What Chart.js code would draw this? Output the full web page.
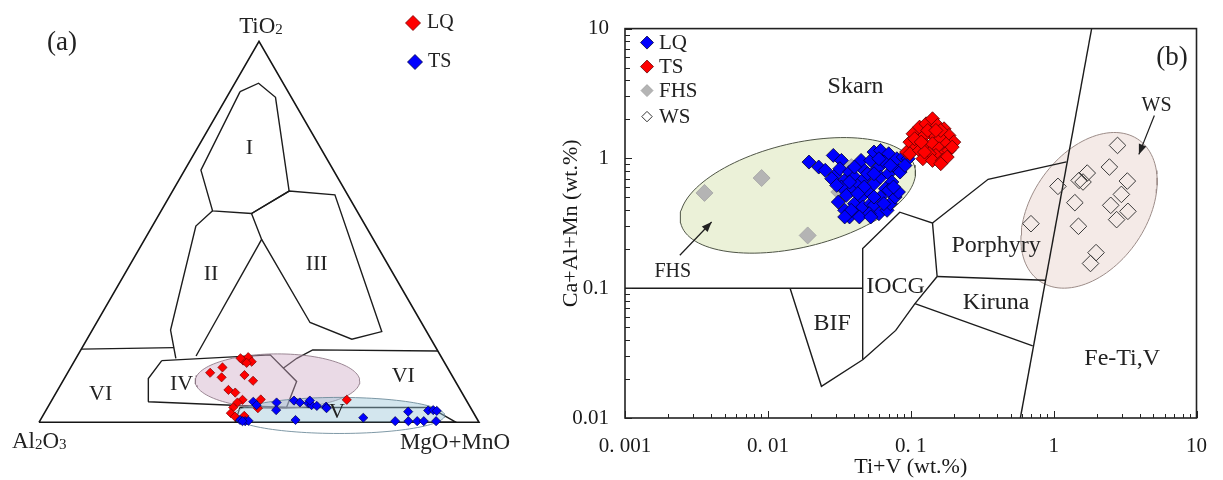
<!DOCTYPE html>
<html lang="en">
<head>
<meta charset="utf-8">
<title>Magnetite discrimination diagrams</title>
<script src="https://cdn.jsdelivr.net/npm/chart.js@4.4.1/dist/chart.umd.min.js"></script>
<style>
  html, body { margin: 0; padding: 0; background: #ffffff; }
  #figure { position: relative; width: 1223px; height: 480px; overflow: hidden; background: #fff; }
  #ternary { position: absolute; left: 0; top: 0; }
  #logplot { position: absolute; left: 560px; top: 0; }
</style>
</head>
<body>
<div id="figure">
  <canvas id="ternary" width="560" height="480"></canvas>
  <canvas id="logplot" width="663" height="480"></canvas>
</div>
<script>
// ===================== Panel (a): TiO2 – Al2O3 – (MgO+MnO) =====================
// Compositions are [TiO2, Al2O3, MgO+MnO] in per cent.
const ternaryCorners = [[0, 100, 0], [0, 0, 100], [100, 0, 0], [0, 100, 0]];

const lqTernary = [
  [13.0, 54.6, 32.4], [14.4, 51.1, 34.5], [11.8, 52.6, 35.6], [12.4, 47.1, 40.5],
  [10.9, 45.9, 43.2], [16.2, 45.5, 38.3], [17.1, 43.9, 39.0], [15.9, 43.7, 40.4],
  [15.6, 45.0, 39.4], [8.5, 52.7, 38.8], [7.8, 51.5, 40.7], [5.9, 50.8, 43.3],
  [5.2, 52.3, 42.5], [6.0, 46.6, 47.4], [3.9, 53.9, 42.2], [2.4, 55.2, 42.4],
  [1.5, 54.7, 43.8], [1.7, 52.5, 45.8], [3.7, 48.4, 47.9], [5.9, 27.1, 67.0],
  [16.8, 45.8, 37.4]
];

const tsTernary = [
  [0.6, 54.0, 45.4], [0.3, 53.0, 46.7], [0.4, 52.2, 47.4], [0.3, 53.6, 46.1],
  [5.4, 48.6, 46.0], [4.5, 48.3, 47.2], [5.2, 43.4, 51.4], [3.2, 44.5, 52.3],
  [5.7, 39.2, 55.1], [5.2, 38.1, 56.7], [5.0, 36.3, 58.7], [4.5, 35.8, 59.7],
  [4.3, 34.7, 61.0], [4.1, 32.7, 63.2], [3.7, 32.8, 63.5], [0.6, 41.4, 58.0],
  [1.2, 25.7, 73.1], [0.3, 18.9, 80.8], [2.8, 14.7, 82.5], [0.3, 15.9, 83.8],
  [0.3, 13.9, 85.8], [0.3, 12.4, 87.3], [3.1, 10.0, 86.9], [3.2, 8.8, 88.0],
  [3.0, 8.1, 88.9], [0.3, 9.6, 90.1], [5.7, 35.6, 58.7]
];

// Field boundaries I–VI
const fieldI = [[86.8, 10.9, 2.3], [89.0, 5.6, 5.4], [85.3, 3.6, 11.1], [60.7, 12.8, 26.5],
  [54.8, 24.3, 20.9], [55.5, 32.8, 11.7], [66.2, 30.1, 3.7], [86.8, 10.9, 2.3]];
const fieldIILeft = [[55.5, 32.8, 11.7], [51.5, 38.6, 9.9], [24.2, 58.0, 17.8], [16.8, 60.5, 22.7]];
const fieldIIRight = [[48.0, 25.4, 26.6], [17.4, 55.6, 27.0]];
const fieldIII = [[54.8, 24.3, 20.9], [60.7, 12.8, 26.5], [59.7, 2.9, 37.4], [23.8, 10.2, 66.0],
  [21.8, 18.0, 60.2], [26.2, 25.3, 48.5], [48.0, 25.4, 26.6], [54.8, 24.3, 20.9]];
const fieldIV = [[16.2, 64.0, 19.8], [17.7, 38.6, 43.7], [10.7, 36.1, 53.2], [3.9, 41.8, 54.3],
  [5.4, 72.5, 22.1], [11.5, 69.4, 19.1], [16.2, 64.0, 19.8]];
const fieldV = [[3.9, 52.4, 43.7], [3.9, 9.2, 86.9], [0, 5.2, 94.8], [0, 55.4, 44.6], [3.9, 52.4, 43.7]];
const fieldVILeft = [[19.2, 80.8, 0], [19.6, 59.5, 20.9]];
const fieldVIRight = [[14.2, 37.4, 48.4], [16.8, 33.0, 50.2], [19.0, 28.3, 52.7], [18.7, 0, 81.3]];

// Sample envelopes: centre composition, half-axes along the base and the height
const lqEnvelopeA = { center: [10.8, 40.4, 48.8], rx: 18.7, ry: 6.2 };
const tsEnvelopeA = { center: [1.8, 30.9, 67.3], rx: 24.0, ry: 4.1 };

// Field names, placed in the triangle's plane (base = 0..100, height = 0..86.6)
const fieldNamesA = [
  { text: 'I', x: 47.8, y: 62.3 }, { text: 'II', x: 39.1, y: 33.7 },
  { text: 'III', x: 63.1, y: 36.0 }, { text: 'IV', x: 32.4, y: 8.7 },
  { text: 'V', x: 67.7, y: 2.4 }, { text: 'VI', x: 14.0, y: 6.4 },
  { text: 'VI', x: 82.8, y: 10.4 }
];

// ===================== Panel (b): Ti+V vs Ca+Al+Mn =====================
const xDecades = [0.001, 0.01, 0.1, 1, 10];
const xTickLabels = ['0. 001', '0. 01', '0. 1', '1', '10'];
const yDecades = [0.01, 0.1, 1, 10];
const yTickLabels = ['0.01', '0.1', '1', '10'];

// [Ti+V, Ca+Al+Mn] in wt.%
const lqPointsB = [
  [0.0194, 0.937], [0.0227, 0.858], [0.0252, 0.809], [0.0287, 1.054], [0.0295, 0.740],
  [0.0327, 0.965], [0.0319, 0.833], [0.0280, 0.698], [0.0345, 0.677], [0.0373, 0.785],
  [0.0404, 0.718], [0.0426, 0.620], [0.0383, 0.567], [0.0327, 0.602], [0.0354, 0.519],
  [0.0311, 0.461], [0.0345, 0.398], [0.0373, 0.354], [0.0426, 0.398], [0.0404, 0.448],
  [0.0449, 0.504], [0.0461, 0.422], [0.0525, 0.448], [0.0498, 0.567], [0.0553, 0.638],
  [0.0473, 0.698], [0.0461, 0.833], [0.0449, 0.965], [0.0525, 0.965], [0.0553, 1.119],
  [0.0615, 1.152], [0.0701, 1.086], [0.0648, 0.937], [0.0583, 0.833], [0.0615, 0.718],
  [0.0701, 0.762], [0.0758, 0.883], [0.0799, 0.994], [0.0887, 1.024], [0.0960, 0.994],
  [0.0842, 0.785], [0.0738, 0.658], [0.0665, 0.584], [0.0615, 0.504], [0.0553, 0.435],
  [0.0599, 0.375], [0.0683, 0.398], [0.0719, 0.448], [0.0778, 0.504], [0.0820, 0.551],
  [0.0648, 0.448], [0.0512, 0.375], [0.0437, 0.354], [0.0383, 0.398], [0.0701, 0.567],
  [0.0758, 0.602], [0.0553, 0.504], [0.0498, 0.762], [0.0599, 0.994], [0.0911, 0.883],
  [0.0719, 0.883], [0.0404, 0.858], [0.0345, 0.354], [0.0525, 0.354], [0.0473, 0.602],
  [0.0426, 0.535], [0.101, 1.119], [0.0553, 0.762], [0.0373, 0.658], [0.0303, 0.620]
];
const tsPointsB = [
  [0.0935, 1.119], [0.0986, 1.335], [0.1038, 1.548], [0.1153, 1.742], [0.1281, 1.848],
  [0.142, 2.02], [0.1539, 1.794], [0.171, 1.691], [0.185, 1.503], [0.2001, 1.335],
  [0.1755, 1.297], [0.158, 1.459], [0.1386, 1.548], [0.1216, 1.459], [0.1094, 1.222],
  [0.0986, 1.086], [0.1153, 1.152], [0.1281, 1.259], [0.142, 1.297], [0.158, 1.187],
  [0.171, 1.086], [0.150, 1.054], [0.135, 1.086], [0.1216, 0.994], [0.142, 0.965],
  [0.1665, 0.965], [0.185, 1.152], [0.1066, 1.417], [0.1315, 1.642], [0.1622, 1.642],
  [0.1248, 1.119], [0.180, 1.024], [0.1622, 0.910], [0.195, 1.222], [0.150, 1.642],
  [0.1184, 1.335]
];
const fhsPointsB = [[0.0036, 0.542], [0.00904, 0.706], [0.019, 0.255], [0.0384, 0.857], [0.0316, 0.551]];
const wsPointsB = [
  [2.80, 1.259], [2.457, 0.858], [3.28, 0.669], [2.98, 0.528], [2.51, 0.435],
  [3.31, 0.391], [2.76, 0.3375], [1.719, 0.771], [1.508, 0.677], [1.606, 0.658],
  [1.072, 0.609], [1.408, 0.456], [0.694, 0.314], [1.492, 0.300], [1.981, 0.188],
  [1.812, 0.155]
];

// Deposit-type field boundaries
const skarnFloor = [[0.001, 0.1], [0.0461, 0.1]];
const bifOutline = [[0.0143, 0.1], [0.0237, 0.01754], [0.0461, 0.0281]];
const iocgUpper = [[0.0461, 0.0281], [0.0461, 0.202], [0.0838, 0.385], [0.142, 0.318], [0.153, 0.123]];
const iocgLower = [[0.0461, 0.0281], [0.0785, 0.0473], [0.107, 0.076], [0.153, 0.123]];
const porphyryUpper = [[0.142, 0.318], [0.348, 0.69], [1.23, 0.94]];
const kirunaUpper = [[0.153, 0.123], [0.871, 0.115]];
const kirunaLower = [[0.107, 0.076], [0.714, 0.0359]];
const feTiVBoundary = [[1.845, 10], [0.585, 0.01]];

// Envelopes given by centre and the ends of two conjugate half-axes
const fhsEnvelopeB = { center: [0.0162, 0.519], axis1: [0.107, 0.848], axis2: [0.0195, 0.211] };
const wsEnvelopeB = { center: [1.770, 0.398], axis1: [4.007, 1.373], axis2: [3.687, 0.216] };
const fhsArrow = [[0.00242, 0.1795], [0.00404, 0.3236]];
const wsArrow = [[5.07, 2.14], [3.95, 1.074]];

const fieldNamesB = [
  { text: 'Skarn', x: 0.0411, y: 3.58, size: 24 },
  { text: 'Porphyry', x: 0.396, y: 0.214, size: 24 },
  { text: 'IOCG', x: 0.0783, y: 0.102, size: 24 },
  { text: 'Kiruna', x: 0.396, y: 0.078, size: 24 },
  { text: 'BIF', x: 0.0282, y: 0.0528, size: 24 },
  { text: 'Fe-Ti,V', x: 3.02, y: 0.0284, size: 24 },
  { text: 'FHS', x: 0.00216, y: 0.133, size: 20 },
  { text: 'WS', x: 5.25, y: 2.56, size: 20 },
  { text: '(b)', x: 6.75, y: 5.98, size: 27 }
];

// ===================== helpers =====================
const serif = '"Liberation Serif", "Times New Roman", serif';
const SQ3_2 = Math.sqrt(3) / 2;
const toXY = ([t, a, m]) => ({ x: m + t / 2, y: t * SQ3_2 });
const pairXY = ([x, y]) => ({ x, y });

function ternaryEllipse(e, n = 120) {
  const c = toXY(e.center);
  const pts = [];
  for (let i = 0; i <= n; i++) {
    const t = (2 * Math.PI * i) / n;
    pts.push({ x: c.x + e.rx * Math.cos(t), y: c.y + e.ry * Math.sin(t) });
  }
  return pts;
}

function logEllipse(e, n = 120) {
  const L = Math.log10;
  const cx = L(e.center[0]), cy = L(e.center[1]);
  const ux = L(e.axis1[0]) - cx, uy = L(e.axis1[1]) - cy;
  const vx = L(e.axis2[0]) - cx, vy = L(e.axis2[1]) - cy;
  const pts = [];
  for (let i = 0; i <= n; i++) {
    const t = (2 * Math.PI * i) / n, c = Math.cos(t), s = Math.sin(t);
    pts.push({ x: Math.pow(10, cx + ux * c + vx * s), y: Math.pow(10, cy + uy * c + vy * s) });
  }
  return pts;
}

function lineSet(points, extra) {
  return Object.assign({
    type: 'line', data: points, borderColor: '#1c1c1c', borderWidth: 1.4,
    pointRadius: 0, pointHoverRadius: 0, fill: false, tension: 0, order: 5, clip: false
  }, extra || {});
}

function logTicks(decades) {
  const ticks = [];
  for (let i = 0; i < decades.length - 1; i++) {
    for (let m = 1; m <= 9; m++) ticks.push({ value: decades[i] * m });
  }
  ticks.push({ value: decades[decades.length - 1] });
  return ticks;
}
const isDecade = v => Math.abs(Math.log10(v) - Math.round(Math.log10(v))) < 1e-6;
function decadeLabel(v, decades, labels) {
  const i = decades.findIndex(d => Math.abs(d - v) / d < 1e-6);
  return i >= 0 ? labels[i] : '';
}

function drawDiamond(ctx, x, y, r, fill, stroke, lw) {
  ctx.beginPath();
  ctx.moveTo(x, y - r); ctx.lineTo(x + r, y); ctx.lineTo(x, y + r); ctx.lineTo(x - r, y);
  ctx.closePath();
  ctx.fillStyle = fill; ctx.fill();
  ctx.lineWidth = lw; ctx.strokeStyle = stroke; ctx.stroke();
}

// chemical formula with small digits; parts = [[text, isSubscript], ...]
function drawFormula(ctx, parts, x, baseline, align) {
  const big = `23px ${serif}`, small = `15px ${serif}`;
  let width = 0;
  parts.forEach(([t, sub]) => { ctx.font = sub ? small : big; width += ctx.measureText(t).width; });
  let cx = align === 'center' ? x - width / 2 : align === 'right' ? x - width : x;
  ctx.textAlign = 'left';
  ctx.textBaseline = 'alphabetic';
  parts.forEach(([t, sub]) => {
    ctx.font = sub ? small : big;
    ctx.fillText(t, cx, baseline + (sub ? 1 : 0));
    cx += ctx.measureText(t).width;
  });
}

Chart.defaults.font.family = serif;
Chart.defaults.color = '#1a1a1a';

// ===================== Panel (a) chart =====================
const ternaryDecor = {
  id: 'ternaryDecor',
  afterDatasetsDraw(chart) {
    const { ctx, scales: { x, y } } = chart;
    const px = p => ({ x: x.getPixelForValue(p.x), y: y.getPixelForValue(p.y) });
    ctx.save();
    ctx.fillStyle = '#222';
    ctx.textAlign = 'center';
    ctx.textBaseline = 'middle';
    ctx.font = `22px ${serif}`;
    fieldNamesA.forEach(l => { const p = px(l); ctx.fillText(l.text, p.x, p.y); });

    const apex = px(toXY([100, 0, 0]));
    const left = px(toXY([0, 100, 0]));
    const right = px(toXY([0, 0, 100]));
    drawFormula(ctx, [['TiO', false], ['2', true]], apex.x + 2, apex.y - 8, 'center');
    drawFormula(ctx, [['Al', false], ['2', true], ['O', false], ['3', true]], left.x - 27, left.y + 26, 'left');
    drawFormula(ctx, [['MgO+MnO', false]], right.x + 31, right.y + 27, 'right');

    ctx.font = `27px ${serif}`;
    ctx.textAlign = 'center';
    ctx.textBaseline = 'middle';
    ctx.fillText('(a)', 62, 43);

    // legend
    drawDiamond(ctx, 413, 23, 7.5, '#ff0000', '#7a0000', 0.8);
    drawDiamond(ctx, 415, 62, 7.5, '#0000ff', '#00004a', 0.8);
    ctx.fillStyle = '#222';
    ctx.font = `20px ${serif}`;
    ctx.textAlign = 'left';
    ctx.fillText('LQ', 427, 23);
    ctx.fillText('TS', 428, 62);
    ctx.restore();
  }
};

new Chart(document.getElementById('ternary'), {
  type: 'scatter',
  data: {
    datasets: [
      lineSet(ternaryCorners.map(toXY), { borderWidth: 1.6, borderColor: '#151515' }),
      lineSet(fieldI.map(toXY)),
      lineSet(fieldIILeft.map(toXY)),
      lineSet(fieldIIRight.map(toXY)),
      lineSet(fieldIII.map(toXY)),
      lineSet(fieldIV.map(toXY)),
      lineSet(fieldV.map(toXY)),
      lineSet(fieldVILeft.map(toXY)),
      lineSet(fieldVIRight.map(toXY)),
      lineSet(ternaryEllipse(lqEnvelopeA), {
        fill: 'shape', backgroundColor: 'rgba(206,168,196,0.42)',
        borderColor: 'rgba(140,118,132,0.85)', borderWidth: 1, order: 4
      }),
      lineSet(ternaryEllipse(tsEnvelopeA), {
        fill: 'shape', backgroundColor: 'rgba(150,196,214,0.42)',
        borderColor: 'rgba(105,135,150,0.85)', borderWidth: 1, order: 3
      }),
      {
        label: 'LQ', data: lqTernary.map(toXY), pointStyle: 'rectRot', pointRadius: 4.6,
        backgroundColor: '#ff0000', borderColor: '#7a0000', borderWidth: 0.7, order: 1, clip: false
      },
      {
        label: 'TS', data: tsTernary.map(toXY), pointStyle: 'rectRot', pointRadius: 4.6,
        backgroundColor: '#0000ff', borderColor: '#00004a', borderWidth: 0.7, order: 0, clip: false
      }
    ]
  },
  options: {
    responsive: false,
    animation: false,
    events: [],
    layout: { padding: { left: 39, right: 81, top: 41.3, bottom: 57.7 } },
    plugins: { legend: { display: false }, tooltip: { enabled: false } },
    scales: {
      x: { type: 'linear', min: 0, max: 100, display: false },
      y: { type: 'linear', min: 0, max: 100 * SQ3_2, display: false }
    }
  },
  plugins: [ternaryDecor]
});

// ===================== Panel (b) chart =====================
const frameAndLabels = {
  id: 'frameAndLabels',
  afterDatasetsDraw(chart) {
    const { ctx, chartArea: a, scales: { x, y } } = chart;
    ctx.save();
    // field names
    ctx.fillStyle = '#222';
    ctx.textAlign = 'center';
    ctx.textBaseline = 'middle';
    fieldNamesB.forEach(l => {
      ctx.font = `${l.size}px ${serif}`;
      ctx.fillText(l.text, x.getPixelForValue(l.x), y.getPixelForValue(l.y));
    });
    // arrow heads at the end of the pointer lines
    chart.data.datasets.forEach((ds, i) => {
      if (!ds.arrowHead) return;
      const pts = chart.getDatasetMeta(i).data;
      const p0 = pts[pts.length - 2], p1 = pts[pts.length - 1];
      const ang = Math.atan2(p1.y - p0.y, p1.x - p0.x);
      ctx.beginPath();
      ctx.moveTo(p1.x, p1.y);
      ctx.lineTo(p1.x - 10 * Math.cos(ang) + 4 * Math.sin(ang), p1.y - 10 * Math.sin(ang) - 4 * Math.cos(ang));
      ctx.lineTo(p1.x - 10 * Math.cos(ang) - 4 * Math.sin(ang), p1.y - 10 * Math.sin(ang) + 4 * Math.cos(ang));
      ctx.closePath();
      ctx.fillStyle = '#222';
      ctx.fill();
    });
    // legend
    const lx = a.left + 22, tx = a.left + 34;
    const rows = [
      { t: 'LQ', y: a.top + 14, r: 6.5, f: '#0000ff', s: '#000033', w: 0.8 },
      { t: 'TS', y: a.top + 38, r: 6.5, f: '#ff0000', s: '#660000', w: 0.8 },
      { t: 'FHS', y: a.top + 62, r: 6, f: '#b4b4b4', s: '#a0a0a0', w: 0.8 },
      { t: 'WS', y: a.top + 88, r: 5.2, f: '#ffffff', s: '#333333', w: 1 }
    ];
    ctx.font = `21px ${serif}`;
    ctx.textAlign = 'left';
    ctx.textBaseline = 'middle';
    rows.forEach(r => {
      drawDiamond(ctx, lx, r.y, r.r, r.f, r.s, r.w);
      ctx.fillStyle = '#222';
      ctx.fillText(r.t, tx, r.y + 1);
    });
    ctx.restore();
  },
  afterDraw(chart) {
    const { ctx, chartArea: a, scales: { x, y } } = chart;
    ctx.save();
    ctx.strokeStyle = '#222';
    ctx.lineWidth = 1.6;
    ctx.strokeRect(a.left, a.top, a.right - a.left, a.bottom - a.top);
    ctx.lineWidth = 1;
    ctx.beginPath();
    x.ticks.forEach(t => {
      const p = Math.round(x.getPixelForValue(t.value)) + 0.5;
      const len = isDecade(t.value) ? 7 : 4;
      ctx.moveTo(p, a.bottom); ctx.lineTo(p, a.bottom - len);
    });
    y.ticks.forEach(t => {
      const p = Math.round(y.getPixelForValue(t.value)) + 0.5;
      const len = isDecade(t.value) ? 7 : 5;
      ctx.moveTo(a.left, p); ctx.lineTo(a.left + len, p);
    });
    ctx.stroke();
    ctx.restore();
  }
};

new Chart(document.getElementById('logplot'), {
  type: 'scatter',
  data: {
    datasets: [
      lineSet(logEllipse(fhsEnvelopeB), {
        fill: 'shape', backgroundColor: '#ebf1d8', borderColor: '#4e5446', borderWidth: 1, order: 10
      }),
      lineSet(logEllipse(wsEnvelopeB), {
        fill: 'shape', backgroundColor: '#f4eae7', borderColor: '#9c8c88', borderWidth: 1, order: 10
      }),
      lineSet(skarnFloor.map(pairXY)),
      lineSet(bifOutline.map(pairXY)),
      lineSet(iocgUpper.map(pairXY)),
      lineSet(iocgLower.map(pairXY)),
      lineSet(porphyryUpper.map(pairXY)),
      lineSet(kirunaUpper.map(pairXY)),
      lineSet(kirunaLower.map(pairXY)),
      lineSet(feTiVBoundary.map(pairXY)),
      lineSet(fhsArrow.map(pairXY), { borderWidth: 1.2, arrowHead: true }),
      lineSet(wsArrow.map(pairXY), { borderWidth: 1.2, arrowHead: true }),
      {
        label: 'FHS', data: fhsPointsB.map(pairXY), pointStyle: 'rectRot', pointRadius: 8.5,
        backgroundColor: '#b4b4b4', borderColor: '#a2a2a2', borderWidth: 0.8, order: 4
      },
      {
        label: 'WS', data: wsPointsB.map(pairXY), pointStyle: 'rectRot', pointRadius: 8.3,
        backgroundColor: 'rgba(255,255,255,0)', borderColor: '#3a3a3a', borderWidth: 1, order: 4
      },
      {
        label: 'LQ', data: lqPointsB.map(pairXY), pointStyle: 'rectRot', pointRadius: 7,
        backgroundColor: '#0000ff', borderColor: '#000033', borderWidth: 0.8, order: 2
      },
      {
        label: 'TS', data: tsPointsB.map(pairXY), pointStyle: 'rectRot', pointRadius: 7,
        backgroundColor: '#ff0000', borderColor: '#5a0000', borderWidth: 0.8, order: 1
      }
    ]
  },
  options: {
    responsive: false,
    animation: false,
    events: [],
    layout: { padding: { left: 0, right: 13, top: 28, bottom: 0 } },
    plugins: { legend: { display: false }, tooltip: { enabled: false } },
    scales: {
      x: {
        type: 'logarithmic', position: 'bottom', min: 0.001, max: 10,
        afterBuildTicks: s => { s.ticks = logTicks(xDecades); },
        afterFit: s => { s.height = 62; },
        grid: { display: false, drawTicks: false },
        border: { display: false },
        ticks: {
          autoSkip: false, maxRotation: 0, padding: 16, color: '#1a1a1a',
          font: { family: serif, size: 21 },
          callback: v => decadeLabel(v, xDecades, xTickLabels)
        },
        title: {
          display: true, text: 'Ti+V (wt.%)', color: '#1a1a1a',
          font: { family: serif, size: 22 }, padding: { top: 0, bottom: 0 }
        }
      },
      y: {
        type: 'logarithmic', position: 'left', min: 0.01, max: 10,
        afterBuildTicks: s => { s.ticks = logTicks(yDecades); },
        afterFit: s => { s.width = 65; },
        grid: { display: false, drawTicks: false },
        border: { display: false },
        ticks: {
          autoSkip: false, padding: 16, color: '#1a1a1a',
          font: { family: serif, size: 21 },
          callback: v => decadeLabel(v, yDecades, yTickLabels)
        },
        title: {
          display: true, text: 'Ca+Al+Mn (wt.%)', color: '#1a1a1a',
          font: { family: serif, size: 22, lineHeight: 1 }, padding: { top: 0, bottom: 0 }
        }
      }
    }
  },
  plugins: [frameAndLabels]
});
</script>
</body>
</html>
